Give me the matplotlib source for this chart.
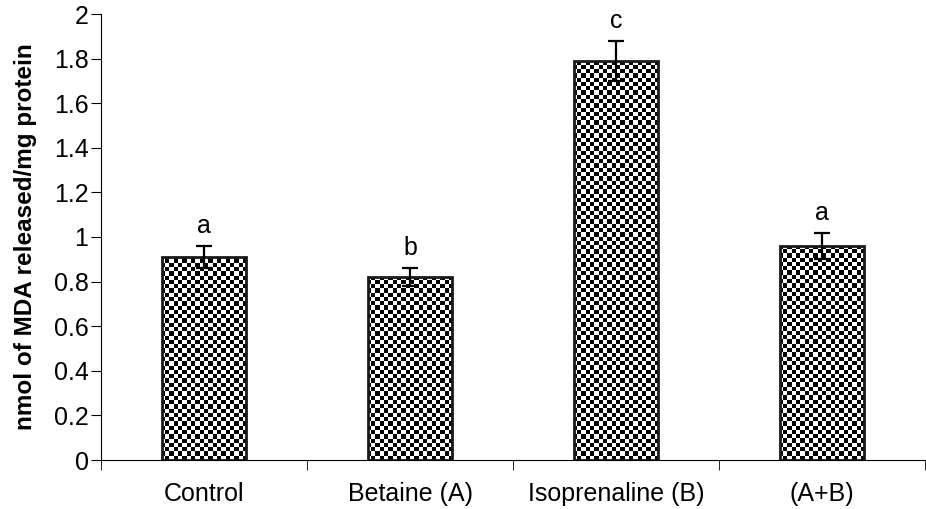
import numpy as np
import matplotlib
matplotlib.use("Agg")
from matplotlib import pyplot as plt

# データ
groups = ["Control", "Betaine (A)", "Isoprenaline (B)", "(A+B)"]
mda = [0.91, 0.82, 1.79, 0.96]
err = [0.05, 0.04, 0.09, 0.06]
letters = ["a", "b", "c", "a"]

plt.rcParams['font.family'] = ['Liberation Sans', 'DejaVu Sans']

fig = plt.figure(figsize=(9.26, 5.09), dpi=100)
ax = fig.add_axes([101 / 926, 49 / 509, 824 / 926, 446 / 509])

x = np.arange(len(groups))
bars = ax.bar(x, mda, width=0.405, facecolor="none", edgecolor="#1a1a1a", linewidth=2, zorder=3)
ax.errorbar(x, mda, yerr=err, fmt="none", ecolor="black", elinewidth=1.6, capsize=5.8, capthick=1.6, zorder=4)

# チェック柄 (約4.3px角)
nx, ny = 192, 104
checker = (np.indices((ny, nx)).sum(axis=0) % 2).astype(float)
for b in bars:
    im = ax.imshow(checker, cmap="gray", vmin=0.15, vmax=1, extent=(-0.5, 3.5, 0, 2),
                   aspect="auto", interpolation="nearest", zorder=2)
    im.set_clip_path(b)

# 有意差の文字
for xi, v, e, t in zip(x, mda, err, letters):
    ax.text(xi, v + e + 0.035, t, ha="center", va="bottom", fontsize=18)

ax.set_xlim(-0.5, 3.5)
ax.set_ylim(0, 2)
ax.set_yticks(np.arange(0, 2.01, 0.2))
ax.set_yticklabels(["0", "0.2", "0.4", "0.6", "0.8", "1", "1.2", "1.4", "1.6", "1.8", "2"])
ax.set_xticks(x)
ax.set_xticklabels(groups)
ax.set_xticks(np.arange(-0.5, 3.6, 1), minor=True)
ax.tick_params(axis="x", which="major", length=0, pad=16, labelsize=18)
ax.tick_params(axis="x", which="minor", length=7, direction="out")
ax.tick_params(axis="y", length=7, direction="out", labelsize=18, pad=2)
ax.spines["top"].set_visible(False)
ax.spines["right"].set_visible(False)
ax.set_ylabel("nmol of MDA released/mg protein", fontsize=17.5, fontweight="bold", labelpad=12)

plt.savefig("out.png", dpi=100)
